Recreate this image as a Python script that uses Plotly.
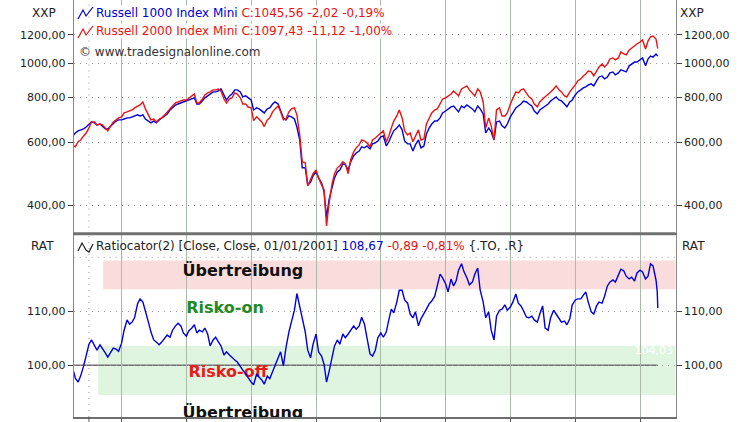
import plotly.graph_objects as go
import pandas as pd

# ---------------- data ----------------
dates = ["2005-04-06"] + list(pd.date_range("2005-04-15", "2014-04-01", freq="SMS").strftime("%Y-%m-%d")) + ["2014-04-08", "2014-04-11"]

r1000 = [
    629, 637, 646, 650, 654, 662, 675, 684, 680, 671, 675, 667, 654, 654, 667, 680, 688, 693,
    693, 697, 702, 702, 707, 711, 716, 711, 716, 697, 688, 680, 688, 680, 693, 702, 711, 720, 739, 749, 763, 768, 773, 778,
    783, 788, 793, 799, 768, 768, 783, 799, 809, 819, 830, 830, 835, 846, 814, 788, 809, 819, 841, 841, 830, 804, 809, 799,
    788, 739, 749, 744, 734, 725, 744, 749, 768, 778, 768, 739, 702, 693, 711, 707, 697, 662, 609, 509, 509, 456, 464, 483,
    496, 477, 462, 436, 369, 414, 453, 477, 496, 502, 522, 519, 502, 529, 550, 560, 567, 583, 579, 586, 575, 594, 598, 605,
    621, 625, 586, 602, 625, 646, 658, 671, 650, 605, 594, 594, 567, 590, 609, 579, 586, 633, 658, 675, 688, 688, 702, 725,
    734, 744, 754, 758, 744, 730, 758, 749, 763, 754, 744, 730, 758, 744, 720, 637, 658, 642, 609, 684, 688, 667, 658, 675,
    707, 725, 749, 758, 768, 783, 778, 768, 758, 734, 720, 739, 749, 758, 768, 783, 793, 804, 788, 783, 768, 754, 778, 788,
    814, 830, 841, 852, 857, 868, 874, 863, 891, 914, 920, 903, 914, 938, 944, 926, 938, 957, 950, 944, 982, 994, 1006, 1006,
    1020, 1033, 982, 1026, 1046, 1039, 1060, 1048, 1045.56,
]

r2000 = [
    586, 583, 602, 609, 625, 637, 658, 684, 684, 671, 675, 671, 658, 646, 667, 684, 693, 702,
    707, 725, 730, 734, 739, 749, 758, 763, 778, 744, 716, 693, 697, 684, 697, 702, 716, 730, 744, 758, 773, 778, 783, 788,
    788, 799, 809, 819, 773, 773, 793, 814, 825, 830, 841, 841, 846, 835, 793, 773, 793, 799, 825, 819, 799, 768, 768, 753,
    749, 690, 707, 697, 684, 664, 693, 702, 730, 744, 758, 730, 693, 697, 730, 744, 749, 716, 629, 529, 526, 453, 471, 490,
    502, 477, 456, 442, 350, 404, 459, 490, 509, 516, 529, 522, 490, 536, 564, 579, 590, 609, 605, 598, 583, 609, 617, 625,
    637, 646, 602, 625, 658, 688, 711, 739, 702, 646, 629, 637, 602, 625, 650, 609, 613, 675, 702, 725, 739, 744, 768, 793,
    799, 809, 819, 835, 819, 809, 846, 852, 863, 841, 825, 809, 846, 830, 778, 658, 702, 667, 609, 739, 749, 711, 711, 725,
    768, 799, 830, 825, 841, 846, 825, 804, 793, 768, 754, 778, 793, 804, 814, 830, 846, 863, 841, 830, 809, 804, 830, 846,
    868, 891, 903, 920, 932, 950, 944, 920, 950, 975, 994, 975, 994, 1026, 1033, 1020, 1033, 1074, 1060, 1053, 1087, 1102, 1116, 1130,
    1145, 1160, 1094, 1152, 1183, 1190, 1167, 1130, 1097.43,
]

ratio = [
    98.8, 97.6, 96.9, 98.0, 99.9, 101.7, 103.9, 104.7, 103.8, 102.8, 103.8, 103.2, 102.3, 101.5, 102.5, 103.2, 103.0, 102.6,
    104.1, 106.5, 108.4, 107.6, 108.0, 108.8, 111.4, 112.3, 111.7, 110.2, 108.0, 106.2, 104.7, 104.3, 103.8, 104.3, 105.1, 105.6, 105.2, 106.5, 107.3, 107.8, 107.3, 106.0,
    105.4, 106.4, 106.9, 107.5, 106.0, 106.5, 106.2, 106.9, 105.8, 103.6, 104.7, 105.2, 104.3, 103.6, 101.9, 102.5, 101.9, 101.4, 101.0, 100.6, 99.9, 99.1, 98.4, 97.6,
    96.9, 96.4, 98.4, 97.8, 97.3, 96.5, 98.0, 97.5, 98.9, 99.9, 101.4, 102.5, 99.9, 103.2, 106.2, 108.0, 110.2, 113.3, 111.0, 108.8, 106.2, 102.8, 101.4, 103.9,
    105.8, 102.5, 101.7, 100.2, 96.9, 98.8, 101.4, 103.6, 104.7, 103.9, 105.8, 105.1, 105.8, 106.5, 107.3, 106.7, 107.3, 108.9, 107.6, 105.1, 102.1, 101.7, 102.8, 105.1,
    106.0, 105.2, 106.2, 108.4, 110.4, 109.7, 111.7, 113.9, 113.9, 112.1, 111.5, 109.5, 108.8, 109.9, 107.3, 108.6, 109.5, 110.4, 111.4, 111.9, 112.8, 115.0, 116.9, 116.2,
    115.1, 113.6, 116.0, 114.7, 115.6, 117.6, 118.8, 117.3, 116.2, 114.9, 115.4, 116.9, 118.0, 113.9, 111.7, 108.8, 109.9, 106.5, 104.7, 109.1, 110.2, 110.4, 111.2, 110.2,
    110.8, 111.7, 113.2, 111.5, 111.0, 110.1, 108.9, 108.8, 109.1, 108.4, 108.0, 109.5, 111.0, 106.9, 106.5, 108.8, 110.2, 109.5, 108.6, 108.0, 108.2, 107.5, 108.6, 111.2,
    112.1, 112.3, 112.3, 113.0, 113.6, 111.7, 109.9, 109.5, 111.0, 111.7, 111.5, 112.8, 114.7, 115.4, 115.8, 115.4, 116.7, 117.8, 117.5, 116.5, 116.0, 116.3, 115.6, 117.1,
    117.6, 117.3, 116.0, 116.5, 118.8, 118.4, 115.8, 113.6, 110.6,
]

price_ticks = [400, 600, 800, 1000, 1200]
price_ticktext = ["400,00", "600,00", "800,00", "1000,00", "1200,00"]
ratio_ticks = [100, 110]
ratio_ticktext = ["100,00", "110,00"]
year_ticks = [f"{y}-01-01" for y in range(2006, 2015)]
x_range = ["2005-04-06", "2014-07-21"]

n = min(len(dates), len(r1000), len(r2000), len(ratio))
dates, r1000, r2000, ratio = dates[:n], r1000[:n], r2000[:n], ratio[:n]

# ---------------- style ----------------
W, H = 750, 422
BLUE = "#0000dd"
RED = "#ee1111"
VGRID = "#a9baa9"
HGRID = "#9a9a9a"
FONT = "DejaVu Sans"


def px(x):
    return x / W


def py(y):
    return 1 - y / H


L, R = px(73.7), px(675.7)

fig = go.Figure()

fig.add_trace(go.Scatter(x=dates, y=r1000, xaxis="x", yaxis="y", mode="lines",
                         line=dict(color=BLUE, width=1.4), hoverinfo="skip", showlegend=False))
fig.add_trace(go.Scatter(x=dates, y=r2000, xaxis="x", yaxis="y", mode="lines",
                         line=dict(color=RED, width=1.4), hoverinfo="skip", showlegend=False))
fig.add_trace(go.Scatter(x=[dates[0]], y=[1000], xaxis="x", yaxis="y2", mode="markers",
                         marker=dict(opacity=0), hoverinfo="skip", showlegend=False))

# zone labels (clipped to the plot area)
labels = [
    ("<b>Übertreibung</b>", "2007-11-16", 117.3, "#111111", 16),
    ("<b>Risko-on</b>", "2007-08-07", 110.4, "#258a25", 16),
    ("<b>Risko-off</b>", "2007-08-24", 98.6, "#e81c1c", 16),
    ("<b>Übertreibung</b>", "2007-11-16", 91.0, "#111111", 16),
    ("104,03", "2014-03-20", 102.6, "#ffffff", 11),
]
for txt, xd, yv, col, sz in labels:
    fig.add_trace(go.Scatter(x=[xd], y=[yv], xaxis="x2", yaxis="y3", mode="text", text=[txt],
                             textposition="middle center",
                             textfont=dict(family=FONT, size=sz, color=col),
                             hoverinfo="skip", showlegend=False))

fig.add_trace(go.Scatter(x=dates, y=ratio, xaxis="x2", yaxis="y3", mode="lines",
                         line=dict(color=BLUE, width=1.4), hoverinfo="skip", showlegend=False))
fig.add_trace(go.Scatter(x=[dates[0]], y=[100], xaxis="x2", yaxis="y4", mode="markers",
                         marker=dict(opacity=0), hoverinfo="skip", showlegend=False))

tickfont = dict(family=FONT, size=11, color="#222222")

common_x = dict(type="date", range=x_range, showgrid=True, gridcolor=VGRID, gridwidth=1,
                tickmode="array", tickvals=year_ticks, showticklabels=False,
                zeroline=False, automargin=False)

fig.update_layout(
    width=W, height=H, margin=dict(l=0, r=0, t=0, b=0), autosize=False,
    paper_bgcolor="white", plot_bgcolor="white", showlegend=False,
    xaxis=dict(domain=[L, R], anchor="y", ticks="", showline=False, **common_x),
    xaxis2=dict(domain=[L, R], anchor="y3", ticks="outside", ticklen=5, tickcolor="#555555",
                showline=True, linecolor="#6e6e6e", linewidth=2, mirror=True, **common_x),
    yaxis=dict(domain=[py(233.5), 1], anchor="x", type="log", range=[2.52294, 3.17627],
               tickmode="array", tickvals=price_ticks, ticktext=price_ticktext,
               ticks="outside", ticklen=5, tickcolor="#444444", tickfont=tickfont,
               showgrid=True, gridcolor=HGRID, griddash="1px,5px", gridwidth=1,
               showline=True, linecolor="#888888", linewidth=1, zeroline=False, automargin=False),
    yaxis2=dict(overlaying="y", side="right", anchor="x", type="log", range=[2.52294, 3.17627],
                tickmode="array", tickvals=price_ticks, ticktext=price_ticktext,
                ticks="outside", ticklen=5, tickcolor="#444444", tickfont=tickfont,
                showgrid=False, showline=True, linecolor="#888888", linewidth=1,
                zeroline=False, automargin=False),
    yaxis3=dict(domain=[py(417), py(234.5)], anchor="x2", range=[90.43, 124.22],
                tickmode="array", tickvals=ratio_ticks, ticktext=ratio_ticktext,
                ticks="outside", ticklen=5, tickcolor="#444444", tickfont=tickfont,
                showgrid=True, gridcolor=HGRID, griddash="1px,5px", gridwidth=1,
                showline=True, linecolor="#888888", linewidth=1, zeroline=False, automargin=False),
    yaxis4=dict(overlaying="y3", side="right", anchor="x2", range=[90.43, 124.22],
                tickmode="array", tickvals=ratio_ticks, ticktext=ratio_ticktext,
                ticks="outside", ticklen=5, tickcolor="#444444", tickfont=tickfont,
                showgrid=False, showline=True, linecolor="#888888", linewidth=1,
                zeroline=False, automargin=False),
)

shapes = []
# zone bands
shapes.append(dict(type="rect", xref="x2", yref="y3", x0="2005-09-19", x1=x_range[1], y0=114.1, y1=119.4,
                   fillcolor="#fadcdc", line=dict(width=0), layer="below"))
shapes.append(dict(type="rect", xref="x2", yref="y3", x0="2005-08-22", x1=x_range[1], y0=94.5, y1=103.6,
                   fillcolor="#e0f5e0", line=dict(width=0), layer="below"))
# extra dotted grid lines
for yref, yv in (("y", 3.14613), ("y3", 120)):
    shapes.append(dict(type="line", xref="paper", yref=yref, x0=L, x1=R, y0=yv, y1=yv,
                       line=dict(color=HGRID, width=1, dash="1px,5px"), layer="below"))
for yref in ("y", "y3"):
    shapes.append(dict(type="line", xref="x" if yref == "y" else "x2", yref=yref + " domain",
                       x0="2005-07-01", x1="2005-07-01", y0=0, y1=1,
                       line=dict(color=HGRID, width=1, dash="1px,5px"), layer="below"))
# tick for the half-year mark
shapes.append(dict(type="line", xref="x2", yref="paper", x0="2005-07-01", x1="2005-07-01",
                   y0=py(422), y1=py(417), line=dict(color="#555555", width=1)))
# solid reference lines
shapes.append(dict(type="line", xref="paper", yref="y", x0=L, x1=R, y0=3, y1=3,
                   line=dict(color="#9a9a9a", width=1), layer="below"))
shapes.append(dict(type="line", xref="x2", yref="y3", x0=x_range[0], x1=dates[-1], y0=100, y1=100,
                   line=dict(color="#707070", width=1.5), layer="below"))
# panel divider
shapes.append(dict(type="line", xref="paper", yref="paper", x0=L, x1=R, y0=py(233.8), y1=py(233.8),
                   line=dict(color="#707070", width=3)))


def icon(points, color):
    p = "M " + " L ".join(f"{px(a):.5f},{py(b):.5f}" for a, b in points)
    return dict(type="path", xref="paper", yref="paper", path=p, line=dict(color=color, width=1.2))


shapes.append(icon([(78, 19), (83, 10), (86, 16), (93, 7)], BLUE))
shapes.append(icon([(78, 38), (83, 29), (86, 35), (93, 26)], RED))
shapes.append(icon([(78, 251), (82, 243), (86, 250), (89, 252), (93, 244)], "#222222"))
fig.update_layout(shapes=shapes)

hdr = dict(family=FONT, size=12, color="#222222")
annotations = [
    dict(x=px(95), y=py(13), text=f"<span style='color:{BLUE}'>Russell 1000 Index Mini</span> "
                                 f"<span style='color:{RED}'>C:1045,56 -2,02 -0,19%</span>",
         bgcolor="white"),
    dict(x=px(95), y=py(31.5), text=f"<span style='color:{RED}'>Russell 2000 Index Mini C:1097,43 -11,12 -1,00%</span>",
         bgcolor="white"),
    dict(x=px(78), y=py(51.5), text="© www.tradesignalonline.com", font=dict(family=FONT, size=12, color="#333333")),
    dict(x=px(95), y=py(246.5), text="Ratiocator(2) [Close, Close, 01/01/2001] "
                                    f"<span style='color:{BLUE}'>108,67</span> "
                                    f"<span style='color:{RED}'>-0,89 -0,81%</span> {{.TO, .R}}"),
]
for a in annotations:
    a.setdefault("font", hdr)
    a.update(xref="paper", yref="paper", xanchor="left", yanchor="middle", showarrow=False, borderpad=0)

for txt, xx, yy in (("XXP", 44, 12.5), ("RAT", 42, 245.5), ("XXP", 692, 12.5), ("RAT", 693, 245.5)):
    annotations.append(dict(x=px(xx), y=py(yy), text=txt, xref="paper", yref="paper",
                            xanchor="center", yanchor="middle", showarrow=False,
                            font=dict(family=FONT, size=12, color="#222222")))
fig.update_layout(annotations=annotations)

fig.write_html("out.html", config={"displayModeBar": False},
               post_script="document.body.style.margin='0px';document.body.style.padding='0px';document.body.style.overflow='hidden';")
